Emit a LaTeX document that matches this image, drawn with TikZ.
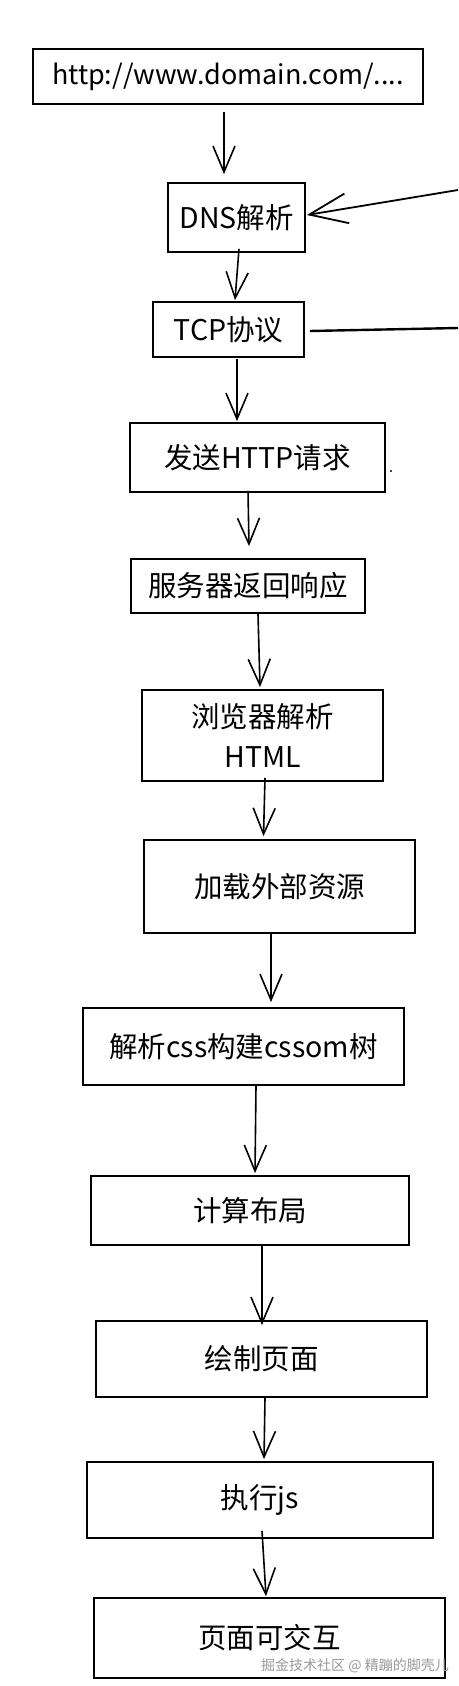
\documentclass[tikz,border=0pt]{standalone}
\usepackage{fontspec}
\setmainfont{Noto Sans CJK SC}
\usetikzlibrary{arrows.meta,calc}
\begin{document}
\begin{tikzpicture}[x=1pt,y=-1pt,
  box/.style={draw, line width=1.8pt, inner sep=0pt, align=center,
    font=\fontsize{28.5}{40}\selectfont},
  arr/.style={line width=1.6pt, -{Straight Barb[length=26pt,width=22pt,line width=1.6pt]}},
  bigarr/.style={line width=1.8pt, -{Straight Barb[length=38pt,width=30pt,line width=1.8pt]}}]
\useasboundingbox[fill=white] (0,0) rectangle (458,1686);

\node[box, minimum width=390pt, minimum height=55pt, font=\fontsize{27}{34}\selectfont] (url) at (228,76.5) {http://www.domain.com/....};
\node[box, minimum width=137pt, minimum height=69pt] (dns) at (236.5,217.5) {DNS解析};
\node[box, minimum width=151pt, minimum height=55pt] (tcp) at (228.5,329.5) {TCP协议};
\node[box, minimum width=255pt, minimum height=69pt] (http) at (257.5,457.5) {发送HTTP请求};
\node[box, minimum width=234pt, minimum height=54pt] (srv) at (248,586) {服务器返回响应};
\node[box, minimum width=241pt, minimum height=91pt] (brw) at (262.5,735.5) {浏览器解析\\HTML};
\node[box, minimum width=271pt, minimum height=93pt] (load) at (279.5,886.5) {加载外部资源};
\node[box, minimum width=321pt, minimum height=77pt] (css) at (243.5,1046.5) {解析css构建cssom树};
\node[box, minimum width=318pt, minimum height=69pt] (lay) at (250,1210.5) {计算布局};
\node[box, minimum width=331pt, minimum height=76pt] (drw) at (261.5,1359) {绘制页面};
\node[box, minimum width=346pt, minimum height=76pt] (js) at (260,1500) {执行js};
\node[box, minimum width=351pt, minimum height=80pt] (fin) at (269.5,1638) {页面可交互};

\node[text=black!40, inner sep=0pt, font=\fontsize{14}{16}\selectfont] (wm) at (355,1666) {掘金技术社区 @ 精蹦的脚壳儿};

\draw[arr] ($(url.south)+(-4,7)$) -- ($(dns.north)+(-12.5,-8)$);
\draw[arr] ($(dns.south)+(2.5,-4)$) -- ($(tcp.north)+(6.5,-1)$);
\draw[arr] ($(tcp.south)+(8.5,1)$) -- ($(http.north)+(-20.5,-1)$);
\draw[arr] ($(http.south)+(-9.5,-2)$) -- ($(srv.north)+(1,-12)$);
\draw[arr] ($(srv.south)+(10,0)$) -- ($(brw.north)+(-2.5,-2)$);
\draw[arr] ($(brw.south)+(2.5,-4)$) -- ($(load.north)+(-16,-3)$);
\draw[arr] ($(load.south)+(-8.5,0)$) -- ($(css.north)+(27.5,-5)$);
\draw[arr] ($(css.south)+(12.5,0)$) -- ($(lay.north)+(5,-2)$);
\draw[arr] ($(lay.south)+(12,0)$) -- ($(drw.north)+(0.5,5)$);
\draw[arr] ($(drw.south)+(3.5,0)$) -- ($(js.north)+(4,-2)$);
\draw[arr] ($(js.south)+(2,-8)$) -- ($(fin.north)+(-3.5,-1)$);

\coordinate (r1) at (458,190);
\coordinate (r2) at (458,328);
\draw[bigarr] (r1) -- ($(dns.east)+(1,-2.5)$);
\draw[line width=2.4pt] ($(tcp.east)+(5,1.5)$) -- (r2);

\fill (391,471) circle (1.2pt);
\end{tikzpicture}
\end{document}
